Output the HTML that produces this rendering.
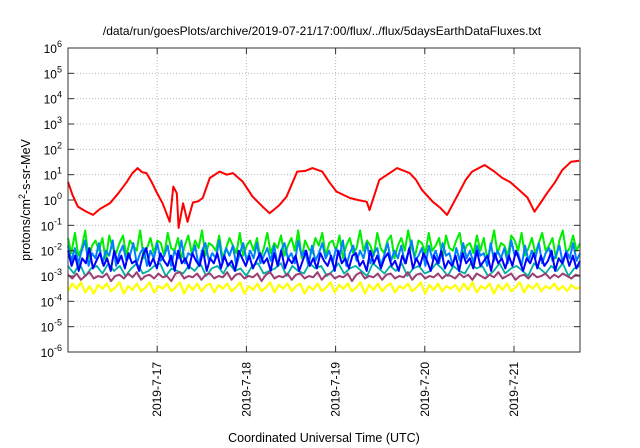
<!DOCTYPE html>
<html><head><meta charset="utf-8"><style>
body{margin:0;background:#fff}
svg{display:block;font-family:"Liberation Sans",sans-serif}
</style></head><body>
<svg id="c" width="640" height="448" viewBox="0 0 640 448">
<text x="322" y="35" font-size="12" text-anchor="middle">/data/run/goesPlots/archive/2019-07-21/17:00/flux/../flux/5daysEarthDataFluxes.txt</text>
<text x="324" y="442" font-size="12.5" text-anchor="middle">Coordinated Universal Time (UTC)</text>
<text transform="translate(30,200) rotate(-90)" font-size="12.5" text-anchor="middle">protons/cm<tspan dy="-5" font-size="9">2</tspan><tspan dy="5">-s-sr-MeV</tspan></text>
<g id="grid"></g><g id="series"></g><g id="axes"></g>
</svg>
<script>
const yTicks=[6,5,4,3,2,1,0,-1,-2,-3,-4,-5,-6];
const xTickLabels=["2019-7-17","2019-7-18","2019-7-19","2019-7-20","2019-7-21"];
const xTickDays=[1,2,3,4,5];
const redT=[0,.05,.11,.2,.28,.36,.47,.56,.66,.72,.78,.83,.88,.94,.99,1.06,1.14,1.18,1.22,1.24,1.29,1.34,1.40,1.46,1.51,1.59,1.70,1.78,1.85,1.96,2.02,2.07,2.18,2.26,2.32,2.37,2.45,2.57,2.66,2.74,2.85,2.93,3.01,3.16,3.25,3.35,3.38,3.49,3.6,3.69,3.83,3.9,3.97,4.09,4.17,4.25,4.38,4.46,4.53,4.67,4.77,4.87,4.96,5.06,5.15,5.23,5.3,5.37,5.46,5.54,5.64,5.73];
const redV=[.72,.2,-.26,-.45,-.59,-.35,-.13,.25,.72,1.05,1.26,1.1,1.06,.7,.33,-.13,-.86,.53,.27,-1.1,-.13,-.86,-.1,-.05,.08,.87,1.12,1.0,1.06,.72,.4,.13,-.26,-.52,-.35,-.2,.13,1.12,1.15,1.26,1.12,.7,.33,.08,0,-.07,-.4,.79,1.05,1.26,1.06,.8,.39,-.07,-.3,-.59,.27,.8,1.12,1.38,1.15,.87,.7,.39,.1,-.46,-.1,.27,.7,1.18,1.51,1.55];
const greenV=[-1.5,-2.1,-1.3,-2.2,-1.9,-1.2,-2.3,-1.8,-1.6,-2.0,-1.5,-2.4,-1.4,-1.9,-2.1,-1.7,-1.4,-2.2,-1.6,-1.8,-2.0,-1.2,-2.3,-1.9,-1.5,-2.1,-1.6,-1.7,-2.2,-1.3,-1.9,-2.0,-1.5,-2.3,-1.8,-1.4,-2.1,-1.6,-1.9,-1.2,-2.2,-1.7,-1.8,-2.0,-1.4,-2.3,-1.9,-1.5,-1.8,-2.1,-1.3,-2.2,-1.8,-1.6,-2.0,-1.5,-2.3,-1.9,-1.3,-2.1,-1.7,-1.9,-1.4,-2.2,-1.8,-1.5,-2.0,-1.2,-2.3,-1.6,-1.9,-2.1,-1.5,-1.8,-1.3,-2.2,-1.7,-1.6,-2.0,-1.4,-2.3,-1.8,-1.5,-2.1,-1.9,-1.2,-2.0,-1.6,-1.8,-2.2,-1.3,-1.9,-2.1,-1.6,-1.4,-2.3,-1.8,-1.5,-2.0,-1.2,-1.9,-2.2,-1.6,-1.7,-2.1,-1.3,-2.0,-1.8,-1.5,-2.3,-1.4,-1.9,-2.0,-1.6,-1.3,-2.2,-1.8,-1.7,-2.1,-1.4,-2.0,-1.5,-2.3,-1.9,-1.2,-2.1,-1.7,-1.8,-2.2,-1.4,-1.6,-2.0,-1.3,-2.2,-1.9,-1.5,-2.1,-1.7,-1.3,-2.0,-1.8,-1.5,-2.3,-1.6,-1.2,-2.1,-1.9,-1.4,-2.0,-1.7];
const lblueV=[-1.8,-2.4,-1.9,-2.5,-2.0,-1.6,-2.6,-2.1,-2.3,-1.7,-2.5,-2.0,-2.2,-1.6,-2.6,-2.1,-1.8,-2.4,-2.2,-1.7,-2.5,-2.1,-1.9,-2.6,-2.0,-2.3,-1.7,-2.4,-2.2,-1.8,-2.6,-2.0,-2.3,-1.6,-2.5,-2.1,-2.2,-1.8,-2.6,-2.0,-1.7,-2.4,-2.1,-2.3,-1.6,-2.5,-1.9,-2.2,-1.8,-2.6,-2.1,-1.7,-2.4,-2.0,-2.3,-1.7,-2.5,-2.2,-1.9,-2.4,-1.8,-2.6,-2.0,-1.7,-2.3,-2.1,-2.5,-1.6,-2.2,-2.0,-2.6,-1.8,-2.4,-2.1,-1.7,-2.3,-2.0,-2.5,-1.9,-2.2,-1.6,-2.6,-2.1,-1.8,-2.4,-2.0,-2.3,-1.7,-2.5,-2.1,-1.9,-2.6,-2.2,-1.7,-2.4,-2.0,-2.3,-1.8,-2.5,-2.1,-1.6,-2.4,-2.2,-1.9,-2.6,-1.8,-2.3,-2.0,-2.5,-1.7,-2.2,-2.1,-2.6,-1.9,-2.4,-1.7,-2.3,-2.0,-2.5,-1.8,-2.2,-2.1,-2.6,-1.7,-2.4,-2.0,-2.3,-1.9,-2.5,-1.6,-2.2,-2.1,-2.6,-1.8,-2.4,-2.0,-2.3,-1.7,-2.5,-2.1,-1.9,-2.4,-2.2,-1.8,-2.5,-2.0,-2.3,-1.7,-2.4,-2.1];
const tealV=[-2.6,-2.9,-2.5,-3.0,-2.7,-2.6,-2.9,-2.5,-2.8,-2.6,-3.0,-2.7,-2.5,-2.9,-2.8,-2.6,-2.5,-3.0,-2.7,-2.8,-2.9,-2.6,-2.8,-2.5,-3.0,-2.7,-2.6,-2.9,-2.5,-2.8,-2.7,-3.0,-2.6,-2.5,-2.9,-2.8,-2.7,-2.5,-3.0,-2.6,-2.8,-2.9,-2.5,-2.7,-2.6,-3.0,-2.8,-2.5,-2.9,-2.7,-2.6,-2.8,-3.0,-2.5,-2.7,-2.9,-2.6,-2.8,-2.5,-3.0,-2.7,-2.6,-2.9,-2.8,-2.5,-2.7,-3.0,-2.6,-2.8,-2.9,-2.5,-2.7,-2.6,-3.0,-2.8,-2.5,-2.9,-2.7,-2.6,-2.8,-3.0,-2.5,-2.7,-2.9,-2.6,-2.8,-2.5,-3.0,-2.7,-2.6];
const blueV=[-2.0,-2.6,-2.2,-2.8,-2.3,-2.5,-1.9,-2.7,-2.4,-2.1,-2.6,-2.3,-2.8,-2.0,-2.5,-2.2,-2.7,-2.1,-2.5,-2.4,-2.8,-2.2,-1.9,-2.6,-2.3,-2.7,-2.1,-2.4,-2.6,-2.2,-2.8,-2.0,-2.5,-2.3,-2.7,-2.1,-2.4,-2.6,-2.0,-2.8,-2.3,-2.5,-2.1,-2.7,-2.2,-2.6,-2.4,-2.8,-2.0,-2.3,-2.6,-2.2,-2.7,-2.4,-2.1,-2.5,-2.3,-2.8,-2.1,-2.6,-2.0,-2.7,-2.3,-2.5,-2.2,-2.8,-2.4,-2.0,-2.6,-2.3,-2.7,-2.1,-2.4,-2.6,-2.2,-2.8,-2.0,-2.5,-2.3,-2.7,-2.2,-2.1,-2.6,-2.4,-2.8,-2.0,-2.5,-2.2,-2.7,-2.3,-2.1,-2.6,-2.4,-2.8,-2.2,-2.5,-1.9,-2.7,-2.3,-2.6,-2.1,-2.4,-2.8,-2.2,-2.5,-2.0,-2.7,-2.4,-2.6,-2.2,-2.8,-2.1,-2.5,-2.3,-2.7,-2.0,-2.6,-2.4,-2.2,-2.8,-2.1,-2.5,-2.3,-2.7,-2.2,-2.6,-2.0,-2.4,-2.8,-2.3,-2.5,-2.1,-2.7,-2.2,-2.6,-2.4,-2.0,-2.8,-2.3,-2.5,-2.1,-2.6,-2.2,-2.7,-2.4];
const purpleV=[-2.95,-3.1,-2.9,-3.15,-3.0,-2.85,-3.1,-3.0,-3.05,-2.9,-3.2,-3.0,-2.95,-3.1,-2.9,-3.05,-2.85,-3.15,-3.0,-2.95,-3.1,-2.9,-3.05,-3.0,-3.2,-2.9,-2.85,-3.1,-3.0,-3.05,-2.9,-3.15,-2.95,-2.9,-3.1,-3.0,-3.05,-2.85,-3.15,-2.95,-2.9,-3.1,-3.0,-3.05,-2.9,-3.2,-2.95,-2.85,-3.1,-3.0,-3.05,-2.9,-3.15,-2.95,-2.9,-3.1,-3.0,-3.05,-2.85,-3.15,-2.95,-2.9,-3.1,-3.0,-3.05,-2.9,-3.2,-2.95,-2.85,-3.1,-3.0,-3.05,-2.9,-3.15,-2.95,-2.9,-3.1,-3.0,-3.05,-2.85,-3.15,-2.95,-2.9,-3.1,-3.0,-3.05,-2.9,-3.1,-2.95,-3.0,-3.1,-2.9,-3.05,-2.95,-3.15,-2.9,-3.0,-3.1,-2.95,-3.05,-2.85,-3.1,-3.0,-2.9,-3.15,-3.0,-2.95,-3.1,-2.9,-3.05,-3.0,-2.9,-3.1,-2.95,-3.05,-2.9,-3.0,-3.1,-2.95,-3.0];
const yellowV=[-3.6,-3.3,-3.5,-3.25,-3.65,-3.4,-3.7,-3.35,-3.5,-3.3,-3.6,-3.45,-3.25,-3.7,-3.4,-3.55,-3.3,-3.6,-3.45,-3.25,-3.65,-3.4,-3.5,-3.3,-3.6,-3.45,-3.25,-3.7,-3.35,-3.55,-3.3,-3.6,-3.4,-3.3,-3.65,-3.35,-3.5,-3.3,-3.6,-3.45,-3.25,-3.7,-3.4,-3.55,-3.3,-3.6,-3.45,-3.25,-3.65,-3.35,-3.5,-3.3,-3.6,-3.4,-3.3,-3.7,-3.4,-3.55,-3.3,-3.6,-3.45,-3.25,-3.65,-3.35,-3.5,-3.3,-3.6,-3.45,-3.25,-3.7,-3.35,-3.55,-3.3,-3.6,-3.4,-3.3,-3.65,-3.4,-3.5,-3.3,-3.6,-3.45,-3.25,-3.7,-3.35,-3.55,-3.3,-3.6,-3.4,-3.5,-3.35,-3.6,-3.3,-3.55,-3.25,-3.65,-3.4,-3.5,-3.3,-3.7,-3.35,-3.55,-3.3,-3.6,-3.45,-3.25,-3.65,-3.35,-3.5,-3.3,-3.6,-3.4,-3.5,-3.3,-3.55,-3.4,-3.6,-3.35,-3.5,-3.45];
const L=68,R=580,T=48,B=352,DMAX=5.74;
const X=d=>L+d/DMAX*(R-L);
const Y=v=>T+(6-v)/12*(B-T);
const NS="http://www.w3.org/2000/svg";
function mk(tag,parent,attrs){const e=document.createElementNS(NS,tag);for(const k in attrs)e.setAttribute(k,attrs[k]);parent.appendChild(e);return e;}
const grid=document.getElementById('grid'),axes=document.getElementById('axes'),ser=document.getElementById('series');
yTicks.forEach(v=>{
  if(v<6&&v>-6){const g=mk('line',grid,{x1:L,x2:R,y1:Y(v),y2:Y(v),stroke:'#bbb','stroke-dasharray':'1,2'});
  
  }
  mk('line',axes,{x1:L,x2:L+6,y1:Y(v),y2:Y(v),stroke:'#333'});
  mk('line',axes,{x1:R-6,x2:R,y1:Y(v),y2:Y(v),stroke:'#333'});
  const t=mk('text',axes,{x:L-6,y:Y(v)+5,'font-size':'12','text-anchor':'end'});
  t.textContent='10';
  const s=mk('tspan',t,{dy:'-6','font-size':'9'});s.textContent=String(v);
  
  
});
xTickDays.forEach((d,i)=>{
  const g=mk('line',grid,{x1:X(d),x2:X(d),y1:T,y2:B,stroke:'#bbb','stroke-dasharray':'1,2'});
  
  
  mk('line',axes,{x1:X(d),x2:X(d),y1:B,y2:B-6,stroke:'#333'});
  mk('line',axes,{x1:X(d),x2:X(d),y1:T,y2:T+6,stroke:'#333'});
  const t=mk('text',axes,{transform:`translate(${X(d)+4},362) rotate(-90)`,'font-size':'12','text-anchor':'end'});
  t.textContent=xTickLabels[i];
  
  
});
function noisy(vals,color,name,w){
  const pts=vals.map((v,i)=>X(i/(vals.length-1)*DMAX).toFixed(1)+','+Y(v).toFixed(1)).join(' ');
  const p=mk('polyline',ser,{points:pts,fill:'none',stroke:color,'stroke-width':w,'stroke-linejoin':'round'});
  
  
}
noisy(greenV,'#00ee00','series-green',2);
noisy(lblueV,'#0080ff','series-light-blue',2);
noisy(tealV,'#00b0a0','series-teal',1.8);
noisy(blueV,'#0000ff','series-blue',2);
noisy(purpleV,'#9b3f74','series-purple',2);
noisy(yellowV,'#ffff00','series-yellow',2.2);
const rp=mk('polyline',ser,{points:redT.map((t,i)=>X(t).toFixed(1)+','+Y(redV[i]).toFixed(1)).join(' '),fill:'none',stroke:'#ff0000','stroke-width':2,'stroke-linejoin':'round'});


const fr=mk('rect',axes,{x:L,y:T,width:R-L,height:B-T,fill:'none',stroke:'#333','stroke-width':1});


</script>
</body></html>
